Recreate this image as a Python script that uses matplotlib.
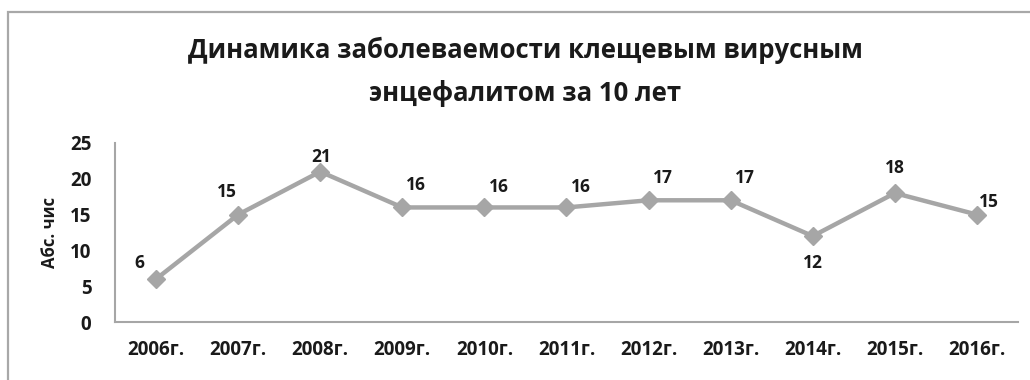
import matplotlib.pyplot as plt
from matplotlib.patches import Rectangle

years = ['2006г.', '2007г.', '2008г.', '2009г.', '2010г.', '2011г.',
         '2012г.', '2013г.', '2014г.', '2015г.', '2016г.']
cases = [6, 15, 21, 16, 16, 16, 17, 17, 12, 18, 15]
y_ticks = [0, 5, 10, 15, 20, 25]

title = 'Динамика заболеваемости клещевым вирусным\nэнцефалитом за 10 лет'
y_label = 'Абс. чис'

# label offsets in pixels (dx, dy) relative to each point
label_offsets = [(-17, 16), (-11, 23), (1, 15), (14, 22), (14, 20), (14, 20),
                 (14, 22), (14, 22), (0, -27), (0, 25), (12, 13)]

plt.rcParams['font.family'] = ['Open Sans', 'DejaVu Sans']
line_color = '#a6a6a6'
text_color = '#1a1a1a'

fig = plt.figure(figsize=(10.3, 3.8), dpi=100)
fig.patch.set_facecolor('white')

# outer chart frame, running off the right and bottom edges
fig.patches.append(Rectangle((8 / 1030, -0.05), 1.2, (380 - 12) / 380 + 0.05,
                             transform=fig.transFigure, fill=False,
                             edgecolor='#a8a8a8', linewidth=1.6))

ax = fig.add_axes([115 / 1030, 58 / 380, 903 / 1030, 179 / 380])
x = list(range(len(years)))
ax.plot(x, cases, color=line_color, linewidth=3.2, marker='D',
        markersize=9, markerfacecolor=line_color, markeredgecolor=line_color)

for xi, val, (dx, dy) in zip(x, cases, label_offsets):
    ax.annotate(str(val), (xi, val), xytext=(dx * 0.72, dy * 0.72),
                textcoords='offset points', ha='center', va='center',
                fontsize=12.5, fontweight='bold', color=text_color)

ax.set_xlim(-0.5, len(years) - 0.5)
ax.set_ylim(0, 25)
ax.set_yticks(y_ticks)
ax.set_xticks(x)
ax.set_xticklabels(years)
ax.tick_params(axis='both', length=0, labelsize=13.5, colors=text_color)
ax.tick_params(axis='x', pad=13)
ax.tick_params(axis='y', pad=17)
for lbl in ax.get_xticklabels() + ax.get_yticklabels():
    lbl.set_fontweight('bold')

for side in ['top', 'right']:
    ax.spines[side].set_visible(False)
for side in ['left', 'bottom']:
    ax.spines[side].set_color('#a6a6a6')
    ax.spines[side].set_linewidth(1.5)

ax.set_ylabel(y_label, fontsize=12, fontweight='bold', color=text_color, labelpad=8)

fig.text(525 / 1030, 1 - 72 / 380, title, ha='center', va='center',
         fontsize=18.5, fontweight='bold', color=text_color, linespacing=1.75)

fig.savefig('out.png', dpi=100)
